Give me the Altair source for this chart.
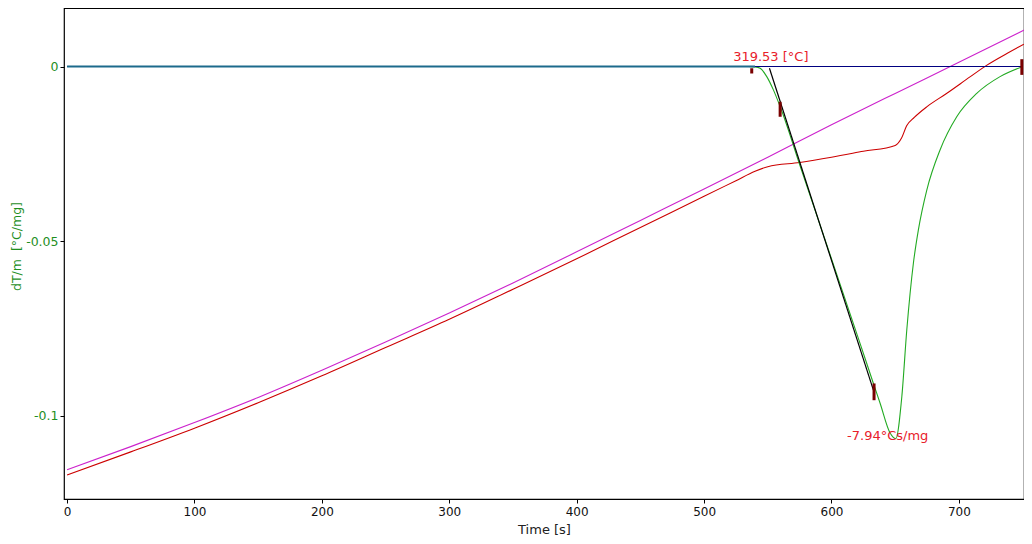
import altair as alt
import pandas as pd

# ---- data ----
t_mag = [0, 50, 100, 150, 200, 250, 300, 350, 400, 450, 500, 550, 600, 650, 700, 752]
v_mag = [-0.1155, -0.1089, -0.1020, -0.0948, -0.0870, -0.0789, -0.0706, -0.0620, -0.0531,
         -0.0441, -0.0351, -0.0260, -0.0167, -0.0077, 0.0012, 0.0106]

t_red = [0, 50, 100, 150, 200, 250, 300, 350, 400, 450, 500, 525, 540, 550, 575, 600, 625,
         650, 655, 659, 665, 675, 690, 709, 722, 738, 751]
v_red = [-0.1170, -0.1104, -0.1036, -0.0963, -0.0886, -0.0805, -0.0724, -0.0638, -0.0551,
         -0.0461, -0.0372, -0.0327, -0.0300, -0.0287, -0.0275, -0.0260, -0.0243, -0.0226,
         -0.0205, -0.0170, -0.0146, -0.0115, -0.0078, -0.0029, 0.0004, 0.0038, 0.0064]

t_dta = [0, 534.5, 540.0, 544.0, 549.2, 554.4, 559.7, 575.4, 598.9, 622.4, 632.9, 638.1,
         646.0, 650.5, 655.2, 659.1, 664.3, 668.2, 674.8, 685.2, 698.3, 714.0, 732.3, 748.8]
v_dta = [0, 0, -0.0001, -0.0005, -0.0029, -0.0067, -0.0115, -0.0285, -0.0539, -0.0793,
         -0.0908, -0.0964, -0.1050, -0.1066, -0.0946, -0.0755, -0.0563, -0.0468, -0.0354,
         -0.0239, -0.0144, -0.0077, -0.0029, -0.0002]

t_tan = [551.3, 632.9]
v_tan = [-0.0005, -0.0927]

mark_t = [537.4, 559.7, 633.4, 749.4]
mark_v1 = [-0.0005, -0.0101, -0.0908, 0.0021]
mark_v2 = [-0.0020, -0.0144, -0.0956, -0.0024]

onset_t = [0, 540]
base_t = [0, 749.4]

labels = ["319.53 [°C]", "-7.94°Cs/mg"]
label_t = [522.8, 612.2]
label_v = [0.0027, -0.1059]

x_ticks = [0, 100, 200, 300, 400, 500, 600, 700]
y_ticks = [-0.1, -0.05, 0]

XDOM = [-2.4, 751.1]
YDOM = [-0.1239, 0.01676]

xs = alt.Scale(domain=XDOM, nice=False, zero=False)
ys = alt.Scale(domain=YDOM, nice=False, zero=False)

GREEN_AX = "#1f8f1f"

xaxis = alt.Axis(values=x_ticks, format="d", title="Time [s]", grid=False,
                 labelFontSize=12, labelColor="#111", labelFont="DejaVu Sans",
                 titleFontSize=13, titleFont="DejaVu Sans", titleFontWeight="normal",
                 titleColor="#222", titleY=30, titleBaseline="middle",
                 tickSize=4, tickColor="#000", domain=False, labelPadding=3)
yaxis = alt.Axis(values=y_ticks, labelExpr="'' + datum.value", title="dT/m\u00a0 [°C/mg]",
                 grid=False, labelFontSize=12.5, labelColor=GREEN_AX, labelFont="DejaVu Sans",
                 titleFontSize=12.5, titleFont="DejaVu Sans", titleFontWeight="normal",
                 titleColor=GREEN_AX, titleX=-48, titleY=238, titleAngle=270,
                 titleAlign="center", titleBaseline="middle",
                 tickSize=4, tickColor="#000", domain=False, labelPadding=2)

df_mag = pd.DataFrame({"t": t_mag, "v": v_mag})
df_red = pd.DataFrame({"t": t_red, "v": v_red})
df_dta = pd.DataFrame({"t": t_dta, "v": v_dta})
df_tan = pd.DataFrame({"t": t_tan, "v": v_tan})
df_mk = pd.DataFrame({"t": mark_t, "v1": mark_v1, "v2": mark_v2})
df_on = pd.DataFrame({"t": [onset_t[0]], "t2": [onset_t[1]], "v": [0.0]})
df_base = pd.DataFrame({"t": [base_t[0]], "t2": [base_t[1]], "v": [0.0]})
df_lab = pd.DataFrame({"t": label_t, "v": label_v, "txt": labels})

mag = alt.Chart(df_mag).mark_line(color="#cc22cc", strokeWidth=1.1, interpolate="monotone",
                                  clip=True).encode(
    x=alt.X("t:Q", scale=xs, axis=xaxis), y=alt.Y("v:Q", scale=ys, axis=yaxis))
red = alt.Chart(df_red).mark_line(color="#cc0000", strokeWidth=1.1, interpolate="monotone",
                                  clip=True).encode(
    x=alt.X("t:Q", scale=xs), y=alt.Y("v:Q", scale=ys))
dta = alt.Chart(df_dta).mark_line(color="#22aa22", strokeWidth=1.1, interpolate="monotone").encode(
    x=alt.X("t:Q", scale=xs), y=alt.Y("v:Q", scale=ys))
base = alt.Chart(df_base).mark_rule(color="#000080", strokeWidth=1).encode(
    x=alt.X("t:Q", scale=xs), x2="t2:Q", y=alt.Y("v:Q", scale=ys))
onset = alt.Chart(df_on).mark_rule(color="#1c6a8c", strokeWidth=2).encode(
    x=alt.X("t:Q", scale=xs), x2="t2:Q", y=alt.Y("v:Q", scale=ys))
tan = alt.Chart(df_tan).mark_line(color="#000000", strokeWidth=1.2).encode(
    x=alt.X("t:Q", scale=xs), y=alt.Y("v:Q", scale=ys))
mk = alt.Chart(df_mk).mark_rule(color="#7a0000", strokeWidth=3).encode(
    x=alt.X("t:Q", scale=xs), y=alt.Y("v1:Q", scale=ys), y2="v2:Q")
lab = alt.Chart(df_lab).mark_text(color="#e8202a", fontSize=13, font="DejaVu Sans",
                                  align="left", baseline="middle").encode(
    x=alt.X("t:Q", scale=xs), y=alt.Y("v:Q", scale=ys), text="txt:N")

chart = alt.layer(mag, red, dta, base, onset, tan, mk, lab).properties(
    width=960, height=491,
    padding={"left": 56, "top": 0, "right": 0, "bottom": 38},
    autosize=alt.AutoSizeParams(type="none"),
    background="white",
).configure_view(stroke="#000000", strokeWidth=1.2)

chart.save("out.html", embed_options={"renderer": "svg", "actions": False})
